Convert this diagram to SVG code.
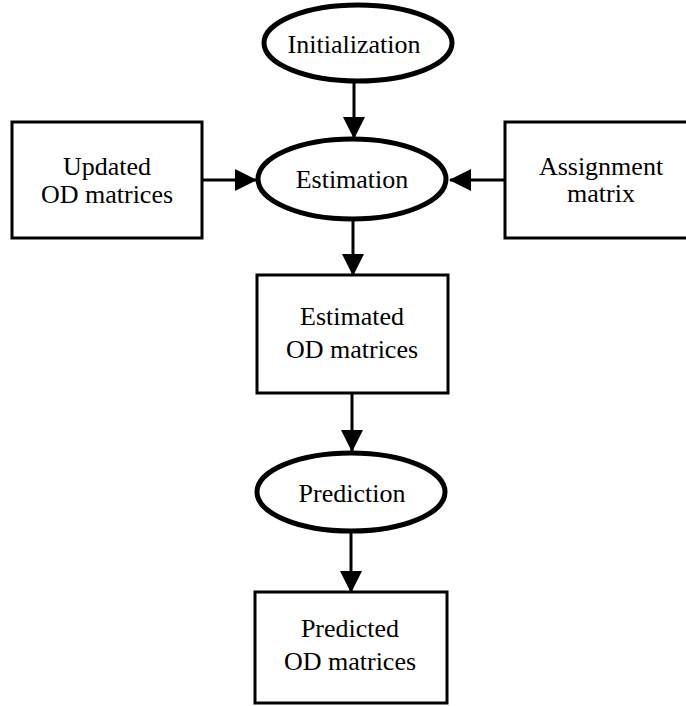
<svg xmlns="http://www.w3.org/2000/svg" width="686" height="706" viewBox="0 0 686 706">
<style>
.box{fill:#fff;stroke:#000;stroke-width:3}
.ell{fill:#fff;stroke:#000;stroke-width:5}
.lbl{font-family:"Liberation Serif","Times New Roman",serif;font-size:26px;fill:#000;text-anchor:middle}
.conn{stroke:#000;stroke-width:3;fill:none}
</style>
<defs>
<marker id="ah" markerUnits="userSpaceOnUse" markerWidth="22" markerHeight="24" viewBox="0 0 22 24" refX="21" refY="12" orient="auto">
<polygon points="0,1 22,12 0,23" fill="#000"/>
</marker>
</defs>
<rect width="686" height="706" fill="#fff"/>
<g id="connectors">
<line class="conn" x1="354" y1="82" x2="354" y2="138" marker-end="url(#ah)"/>
<line class="conn" x1="202" y1="180" x2="256" y2="180" marker-end="url(#ah)"/>
<line class="conn" x1="505" y1="180" x2="450" y2="180" marker-end="url(#ah)"/>
<line class="conn" x1="353" y1="220" x2="353" y2="275" marker-end="url(#ah)"/>
<line class="conn" x1="352" y1="393" x2="352" y2="451" marker-end="url(#ah)"/>
<line class="conn" x1="351" y1="532" x2="351" y2="592" marker-end="url(#ah)"/>
</g>
<g id="initialization">
<ellipse class="ell" cx="358" cy="43" rx="94" ry="38"/>
<text class="lbl" x="354" y="53">Initialization</text>
</g>
<g id="updated">
<rect class="box" x="12" y="122" width="190" height="116"/>
<text class="lbl" x="107" y="175">Updated</text>
<text class="lbl" x="107" y="203">OD matrices</text>
</g>
<g id="estimation">
<ellipse class="ell" cx="352" cy="179" rx="94" ry="40"/>
<text class="lbl" x="352" y="188">Estimation</text>
</g>
<g id="assignment">
<rect class="box" x="505" y="122" width="190" height="116"/>
<text class="lbl" x="601" y="175">Assignment</text>
<text class="lbl" x="601" y="202">matrix</text>
</g>
<g id="estimated">
<rect class="box" x="257" y="275" width="191" height="118"/>
<text class="lbl" x="352" y="325">Estimated</text>
<text class="lbl" x="352" y="358">OD matrices</text>
</g>
<g id="prediction">
<ellipse class="ell" cx="351" cy="492" rx="94" ry="39"/>
<text class="lbl" x="352" y="502">Prediction</text>
</g>
<g id="predicted">
<rect class="box" x="255" y="592" width="192" height="111"/>
<text class="lbl" x="350" y="637">Predicted</text>
<text class="lbl" x="350" y="670">OD matrices</text>
</g>
</svg>
